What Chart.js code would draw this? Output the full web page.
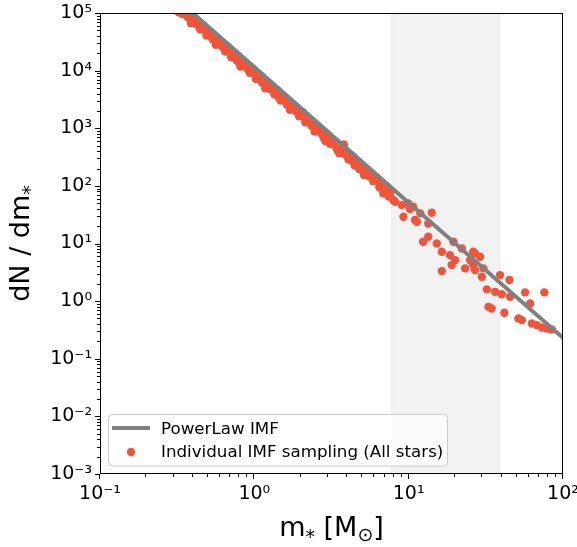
<!DOCTYPE html>
<html>
<head>
<meta charset="utf-8">
<script src="https://cdn.jsdelivr.net/npm/chart.js@4.4.1/dist/chart.umd.min.js"></script>
<style>
  body { margin: 0; background: #fff; }
</style>
</head>
<body>
<canvas id="imfChart" width="577" height="547"></canvas>
<script>
// PowerLaw IMF (straight line in log-log)
const lineMass = [0.3, 1, 10, 100];
const lineDnDm = [1.95e5, 1.15e4, 51, 0.23];

// individual sampled stars
const starMass = [
  0.316, 0.324,
  0.331, 0.347, 0.363, 0.380, 0.398, 0.417, 0.437, 0.457, 0.479, 0.501,
  0.525, 0.550, 0.575, 0.603, 0.631, 0.661, 0.692, 0.724, 0.759, 0.794,
  0.832, 0.871, 0.912, 0.955, 1.0, 1.047, 1.096, 1.148, 1.202, 1.259,
  1.318, 1.380, 1.445, 1.514, 1.585, 1.660, 1.738, 1.820, 1.905, 1.995,
  2.089, 2.188, 2.291, 2.399, 2.512, 2.630, 2.754, 2.884, 3.020, 3.162,
  3.311, 3.467, 3.631, 3.802, 3.981, 4.169, 4.365, 4.571, 4.786, 5.012,
  5.248, 5.495, 5.754, 6.026, 6.310, 6.607, 6.918, 7.244, 7.586,
  0.339, 0.355, 0.372, 0.389, 0.407, 0.427, 0.447, 0.468, 0.490, 0.513,
  0.537, 0.562, 0.589, 0.617, 0.646, 0.676, 0.708, 0.741, 0.776, 0.813,
  0.851, 0.891, 0.933, 0.977, 1.023, 1.072, 1.122, 1.175, 1.230, 1.288,
  1.349, 1.413, 1.479, 1.549, 1.622, 1.698, 1.778, 1.862, 1.950, 2.042,
  2.138, 2.239, 2.344, 2.455, 2.570, 2.692, 2.818, 2.951, 3.090, 3.236,
  3.388, 3.548, 3.715, 3.890, 4.074, 4.266, 4.467, 4.677, 4.898, 5.129,
  5.370, 5.623, 5.888, 6.166, 6.457, 6.761, 7.079, 7.413,
  7.21, 6.85, 7.96, 8.17, 9.02, 9.95, 9.25, 10.2, 10.7, 11.0,
  11.9, 11.3, 13.4, 14.1, 12.4, 13.4, 15.2, 16.4, 19.5, 18.5,
  22.1, 20.0, 19.0, 16.4, 23.2, 26.2, 25.0, 26.9, 26.9, 29.0,
  26.2, 30.5, 29.8, 39.1, 45.0, 32.1, 36.3, 40.1, 45.4, 56.8,
  61.2, 75.7, 32.9, 34.5, 41.7, 51.4, 54.1, 62.8, 67.6, 72.9,
  78.6, 84.6
];
const starDnDm = [
  1.22e5, 1.03e5,
  1.17e5, 1.10e5, 9.0e4, 9.06e4, 7.59e4, 7.13e4, 5.97e4, 5.87e4, 5.04e4, 4.22e4,
  4.15e4, 3.56e4, 3.50e4, 2.80e4, 2.69e4, 2.15e4, 2.22e4, 1.86e4, 1.59e4, 1.60e4,
  1.34e4, 1.26e4, 1.06e4, 1.04e4, 8910, 7460, 7350, 6300, 6050, 4950,
  4760, 4080, 3420, 3520, 3020, 2590, 2490, 2130, 2050, 1640,
  1610, 1380, 1330, 1090, 1020, 940, 787, 601, 679, 543,
  573, 408, 441, 521, 339, 333, 261, 256, 196, 211,
  177, 148, 156, 125, 120, 94, 99, 79, 76,
  9.65e4, 1.14e5, 8.33e4, 6.66e4, 7.88e4, 6.30e4, 5.16e4, 6.10e4, 4.06e4, 4.80e4,
  3.50e4, 2.80e4, 3.32e4, 2.65e4, 2.17e4, 2.57e4, 1.71e4, 2.02e4, 1.47e4, 1.18e4,
  1.39e4, 1.12e4, 9130, 1.08e4, 7190, 8500, 6200, 4960, 5870, 4690,
  3840, 4540, 3020, 3580, 2610, 2090, 2470, 1970, 1620, 1910,
  1270, 1500, 1100, 878, 1040, 831, 680, 804, 535, 633,
  462, 369, 437, 350, 286, 338, 225, 266, 194, 155,
  184, 147, 120, 142, 94.7, 112, 81.7, 65.4,
  96.4, 74, 56.7, 53, 46.4, 49.7, 29.1, 39.6, 43.4, 25.5,
  33.3, 23.8, 22.3, 34.1, 10.7, 13.1, 10.0, 7.18, 10.7, 6.29,
  8.22, 5.15, 4.22, 3.32, 3.70, 7.18, 5.15, 3.45, 6.73, 5.88,
  4.22, 3.70, 2.64, 2.83, 2.32, 1.60, 1.45, 1.32, 1.19, 1.42,
  0.912, 1.42, 0.796, 0.746, 0.627, 0.501, 0.468, 0.410, 0.383, 0.349,
  0.336, 0.323
];

// shaded mass window
const shadeRange = [7.75, 39];

const xTicks = [0.1, 1, 10, 100];
const xTickLabels = ['10⁻¹', '10⁰', '10¹', '10²'];
const yTicks = [1e-3, 1e-2, 1e-1, 1, 1e1, 1e2, 1e3, 1e4, 1e5];
const yTickLabels = ['10⁻³', '10⁻²', '10⁻¹', '10⁰', '10¹', '10²', '10³', '10⁴', '10⁵'];

const FONT = "'DejaVu Sans', sans-serif";
const lineColor = '#808080';
const dotColor = '#ef553b';

function drawPieces(ctx, pieces, cx, baseline) {
  let total = 0;
  for (let p of pieces) {
    ctx.font = p.size + 'px ' + FONT;
    p.w = ctx.measureText(p.t).width;
    total += p.w;
  }
  let x = cx - total / 2;
  for (let p of pieces) {
    ctx.font = p.size + 'px ' + FONT;
    ctx.fillText(p.t, x, baseline + (p.dy || 0));
    x += p.w;
  }
}

const decorPlugin = {
  id: 'imfDecor',
  beforeDatasetsDraw(chart) {
    const { ctx, chartArea: a, scales: { x } } = chart;
    const x0 = x.getPixelForValue(shadeRange[0]);
    const x1 = x.getPixelForValue(shadeRange[1]);
    ctx.save();
    ctx.fillStyle = 'rgba(128,128,128,0.1)';
    ctx.fillRect(x0, a.top, x1 - x0, a.bottom - a.top);
    ctx.strokeStyle = 'rgba(128,128,128,0.1)';
    ctx.lineWidth = 1;
    ctx.beginPath();
    ctx.moveTo(x0, a.top); ctx.lineTo(x0, a.bottom);
    ctx.moveTo(x1, a.top); ctx.lineTo(x1, a.bottom);
    ctx.stroke();
    ctx.restore();
  },
  afterDraw(chart) {
    const { ctx, chartArea: a, scales: { x, y } } = chart;
    ctx.save();
    // frame
    ctx.strokeStyle = '#000';
    ctx.lineWidth = 1;
    ctx.strokeRect(a.left + 0.5, a.top + 0.5, a.right - a.left - 1, a.bottom - a.top - 1);

    // major + minor ticks (outward)
    ctx.beginPath();
    for (let i = 0; i < xTicks.length; i++) {
      const px = Math.round(x.getPixelForValue(xTicks[i])) - 0.5;
      ctx.moveTo(px, a.bottom); ctx.lineTo(px, a.bottom + 5);
      if (i < xTicks.length - 1) {
        for (let k = 2; k <= 9; k++) {
          const mx = Math.round(x.getPixelForValue(xTicks[i] * k)) - 0.5;
          ctx.moveTo(mx, a.bottom); ctx.lineTo(mx, a.bottom + 3);
        }
      }
    }
    for (let i = 0; i < yTicks.length; i++) {
      const py = Math.round(y.getPixelForValue(yTicks[i])) + 0.5;
      ctx.moveTo(a.left, py); ctx.lineTo(a.left - 5, py);
      if (i < yTicks.length - 1) {
        for (let k = 2; k <= 9; k++) {
          const my = Math.round(y.getPixelForValue(yTicks[i] * k)) + 0.5;
          ctx.moveTo(a.left, my); ctx.lineTo(a.left - 3, my);
        }
      }
    }
    ctx.stroke();

    // axis titles
    ctx.fillStyle = '#000';
    ctx.textBaseline = 'alphabetic';
    ctx.textAlign = 'left';
    drawPieces(ctx, [
      { t: 'm', size: 27 }, { t: '*', size: 19, dy: 7 },
      { t: ' [M', size: 27 }, { t: '⊙', size: 19, dy: 5 }, { t: ']', size: 27 }
    ], (a.left + a.right) / 2, 536);

    ctx.save();
    ctx.translate(29, (a.top + a.bottom) / 2);
    ctx.rotate(-Math.PI / 2);
    drawPieces(ctx, [
      { t: 'dN / dm', size: 27 }, { t: '*', size: 19, dy: 7 }
    ], 0, 0);
    ctx.restore();

    // legend
    const lx = 108.5, ly = 414.5, lw = 339, lh = 51.5;
    ctx.fillStyle = 'rgba(255,255,255,0.8)';
    ctx.strokeStyle = '#cccccc';
    ctx.lineWidth = 1;
    ctx.beginPath();
    ctx.roundRect(lx, ly, lw, lh, 4);
    ctx.fill();
    ctx.stroke();

    ctx.strokeStyle = lineColor;
    ctx.lineWidth = 4;
    ctx.beginPath();
    ctx.moveTo(112, 428); ctx.lineTo(150, 428);
    ctx.stroke();

    ctx.fillStyle = dotColor;
    ctx.beginPath();
    ctx.arc(131, 452, 4.2, 0, Math.PI * 2);
    ctx.fill();

    ctx.fillStyle = '#000';
    ctx.font = '16.7px ' + FONT;
    ctx.fillText('PowerLaw IMF', 161, 433.5);
    ctx.fillText('Individual IMF sampling (All stars)', 161, 457);
    ctx.restore();
  }
};

const ctx = document.getElementById('imfChart');
new Chart(ctx, {
  type: 'scatter',
  data: {
    datasets: [
      {
        label: 'PowerLaw IMF',
        data: lineMass.map((m, i) => ({ x: m, y: lineDnDm[i] })),
        showLine: true,
        borderColor: lineColor,
        borderWidth: 4,
        borderCapStyle: 'square',
        pointRadius: 0,
        clip: 0,
      },
      {
        label: 'Individual IMF sampling (All stars)',
        data: starMass.map((m, i) => ({ x: m, y: starDnDm[i] })),
        backgroundColor: dotColor,
        borderWidth: 0,
        pointRadius: 4.2,
        clip: 0,
      },
    ]
  },
  options: {
    responsive: false,
    animation: false,
    devicePixelRatio: 1,
    layout: { padding: { top: 13, right: 14, left: 0, bottom: 0 } },
    plugins: {
      legend: { display: false },
      tooltip: { enabled: false },
    },
    scales: {
      x: {
        type: 'logarithmic',
        min: 0.1,
        max: 100,
        grid: { display: false, drawTicks: false },
        border: { display: false },
        ticks: {
          color: '#000',
          font: { family: FONT, size: 19 },
          padding: 9,
          maxRotation: 0,
          autoSkip: false,
          callback: (v, i) => xTickLabels[i],
        },
        afterBuildTicks: (s) => { s.ticks = xTicks.map(v => ({ value: v })); },
        afterFit: (s) => { s.height = 73; s.paddingLeft = 0; s.paddingRight = 0; },
      },
      y: {
        type: 'logarithmic',
        min: 1e-3,
        max: 1e5,
        grid: { display: false, drawTicks: false },
        border: { display: false },
        ticks: {
          color: '#000',
          font: { family: FONT, size: 19 },
          padding: 8,
          autoSkip: false,
          callback: (v, i) => yTickLabels[i],
        },
        afterBuildTicks: (s) => { s.ticks = yTicks.map(v => ({ value: v })); },
        afterFit: (s) => { s.width = 100; s.paddingTop = 0; s.paddingBottom = 0; },
      }
    }
  },
  plugins: [decorPlugin]
});
</script>
</body>
</html>
